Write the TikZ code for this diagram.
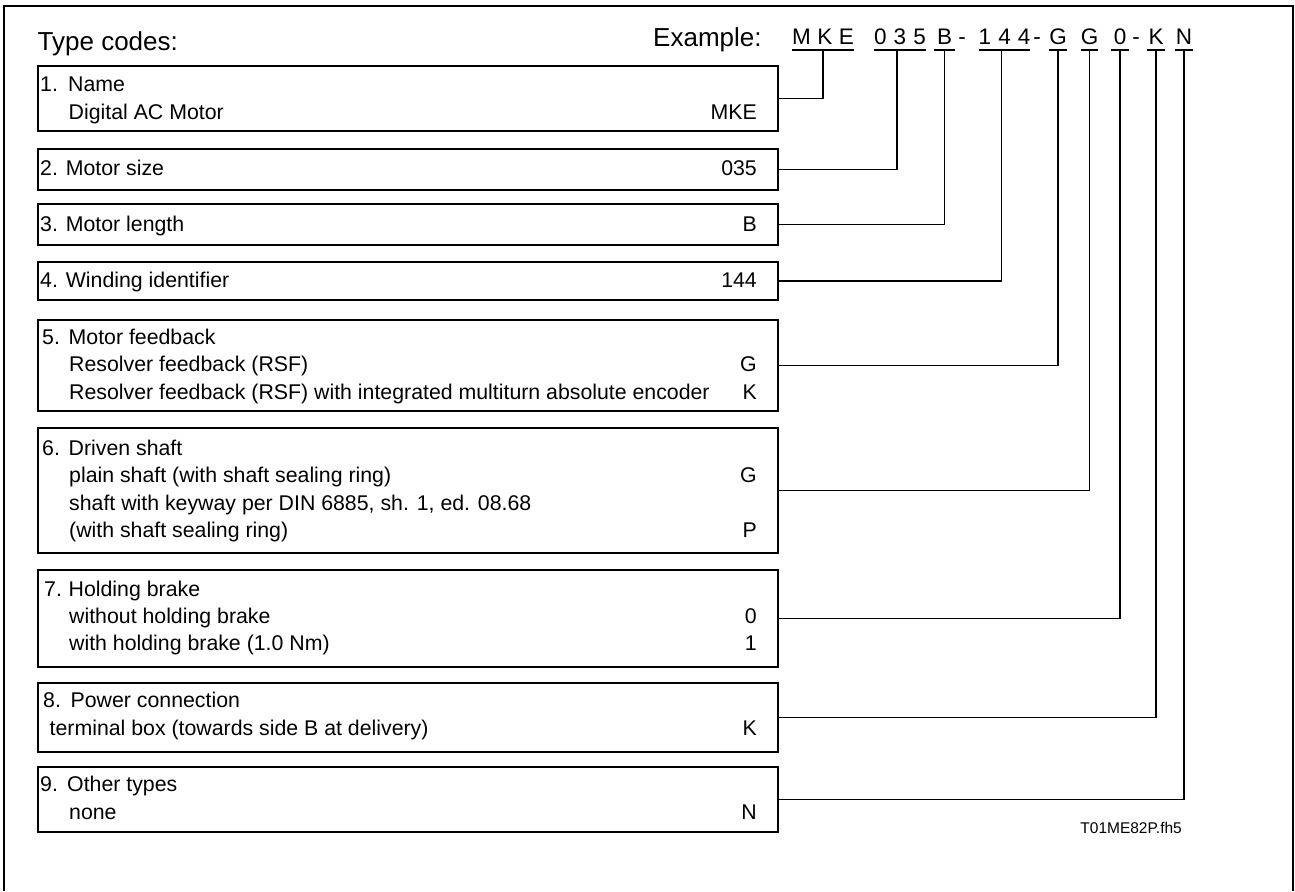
\documentclass[tikz,border=0pt]{standalone}
\usepackage{fontspec}
\setmainfont{Liberation Sans}
\begin{document}
\begin{tikzpicture}[x=1pt,y=-1pt,
  box/.style={draw, line width=1.6pt, inner sep=0pt, anchor=north west, minimum width=740pt},
  txt/.style={inner sep=0pt, font=\fontsize{21.3}{25}\selectfont, anchor=base west},
  val/.style={inner sep=0pt, font=\fontsize{21.3}{25}\selectfont, anchor=base east},
  head/.style={inner sep=0pt, font=\fontsize{26}{30}\selectfont, anchor=base west},
  code/.style={inner sep=0pt, font=\fontsize{22.5}{27}\selectfont, anchor=base},
  conn/.style={line width=1.6pt},
  uline/.style={line width=2.6pt},
  ulinethin/.style={line width=1.5pt}
]
\useasboundingbox (0,0) rectangle (1295,891);
% outer frame (bottom edge lies outside the picture)
\draw[line width=1.6pt] (4,891) -- (4,6) -- (1293,6) -- (1293,891);

% header
\node[head] (title) at (37.5,51) {Type codes:};
\node[head] (ex) at (653,47) {Example:};

\node[code, minimum width=62pt] (cM) at (823,45) {M\hspace{6.5pt}K\hspace{6.5pt}E};
\node[code, minimum width=52pt] (c0) at (900,45) {0\hspace{7pt}3\hspace{7pt}5};
\node[code, minimum width=21pt] (cB) at (944.5,45) {B};
\node[code] (d1) at (962,45) {-};
\node[code, minimum width=51pt] (c1) at (1004.5,45) {1\hspace{7pt}4\hspace{7pt}4};
\node[code] (d2) at (1037,45) {-};
\node[code, minimum width=18pt] (cG) at (1058,45) {G};
\node[code, minimum width=17pt] (cH) at (1089.5,45) {G};
\node[code, minimum width=18pt] (cZ) at (1120,45) {0};
\node[code] (d3) at (1136,45) {-};
\node[code, minimum width=18pt] (cK) at (1156,45) {K};
\node[code, minimum width=18pt] (cN) at (1184,45) {N};

\foreach \n in {cM,cB,cG,cH,cZ,cK,cN}{
  \draw[uline] ([yshift=-5pt]\n.base west) -- ([yshift=-5pt]\n.base east);
  \coordinate (u\n) at ([yshift=-5pt]\n.base);
}
\draw[uline] ([yshift=-5pt]c1.base west) -- ([yshift=-5pt]c1.base east);
\coordinate (uc1) at ([xshift=-3pt,yshift=-5pt]c1.base);
\draw[ulinethin] ([yshift=-5pt]c0.base west) -- ([yshift=-5pt]c0.base east);
\coordinate (uc0) at ([xshift=-3pt,yshift=-5pt]c0.base);

% boxes
\node[box, minimum height=65pt] (b1) at (37,65) {};
\node[box, minimum height=41pt] (b2) at (37,148) {};
\node[box, minimum height=41pt] (b3) at (37,203) {};
\node[box, minimum height=38pt] (b4) at (37,261) {};
\node[box, minimum height=91pt] (b5) at (37,319) {};
\node[box, minimum height=125pt] (b6) at (37,427) {};
\node[box, minimum height=97pt] (b7) at (37,569) {};
\node[box, minimum height=69pt] (b8) at (37,682) {};
\node[box, minimum height=65pt] (b9) at (37,766) {};

% box texts
\node[txt] (t1) at (40,92) {\makebox[28pt][l]{1.}Name};
\node[txt] (t1a) at (68.5,119) {Digital AC Motor};
\node[val] (v1) at (757,119) {MKE};

\node[txt] (t2) at (40,175) {2. Motor size};
\node[val] (v2) at (757,175) {035};

\node[txt] (t3) at (40,231) {3. Motor length};
\node[val] (v3) at (757,231) {B};

\node[txt] (t4) at (40,287) {4. Winding identifier};
\node[val] (v4) at (757,287) {144};

\node[txt] (t5) at (42,344) {\makebox[26.5pt][l]{5.}Motor feedback};
\node[txt] (t5a) at (69,371) {Resolver feedback (RSF)};
\node[val] (v5a) at (757,371) {G};
\node[txt] (t5b) at (69,399) {Resolver feedback (RSF) with integrated multiturn absolute encoder};
\node[val] (v5b) at (757,399) {K};

\node[txt] (t6) at (42,455) {\makebox[26.5pt][l]{6.}Driven shaft};
\node[txt] (t6a) at (69,482) {plain shaft (with shaft sealing ring)};
\node[val] (v6a) at (757,482) {G};
\node[txt] (t6b) at (69,510) {shaft with keyway per DIN 6885, sh. 1, ed. 08.68};
\node[txt] (t6c) at (69,537) {(with shaft sealing ring)};
\node[val] (v6c) at (757,537) {P};

\node[txt] (t7) at (44,596) {\makebox[24.5pt][l]{7.}Holding brake};
\node[txt] (t7a) at (69,623) {without holding brake};
\node[val] (v7a) at (757,623) {0};
\node[txt] (t7b) at (69,650) {with holding brake (1.0 Nm)};
\node[val] (v7b) at (757,650) {1};

\node[txt] (t8) at (43,707) {\makebox[27.5pt][l]{8.}Power connection};
\node[txt] (t8a) at (49.5,735) {terminal box (towards side B at delivery)};
\node[val] (v8a) at (757,735) {K};

\node[txt] (t9) at (40,791) {\makebox[27pt][l]{9.}Other types};
\node[txt] (t9a) at (69,819) {none};
\node[val] (v9a) at (757,819) {N};

% connectors
\draw[conn] (b1.east) -| (ucM);
\draw[conn] (b2.east) -| (uc0);
\draw[conn] (b3.east) -| (ucB);
\draw[conn] (b4.east) -| (uc1);
\draw[conn] (b5.east) -| (ucG);
\draw[conn] (b6.east) -| (ucH);
\draw[conn] (b7.east) -| (ucZ);
\draw[conn] (b8.east) -| (ucK);
\draw[conn] (b9.east) -| (ucN);

\node[inner sep=0pt, font=\fontsize{15.5}{18}\selectfont, anchor=base east] (fig) at (1182,833) {T01ME82P.fh5};
\end{tikzpicture}
\end{document}
